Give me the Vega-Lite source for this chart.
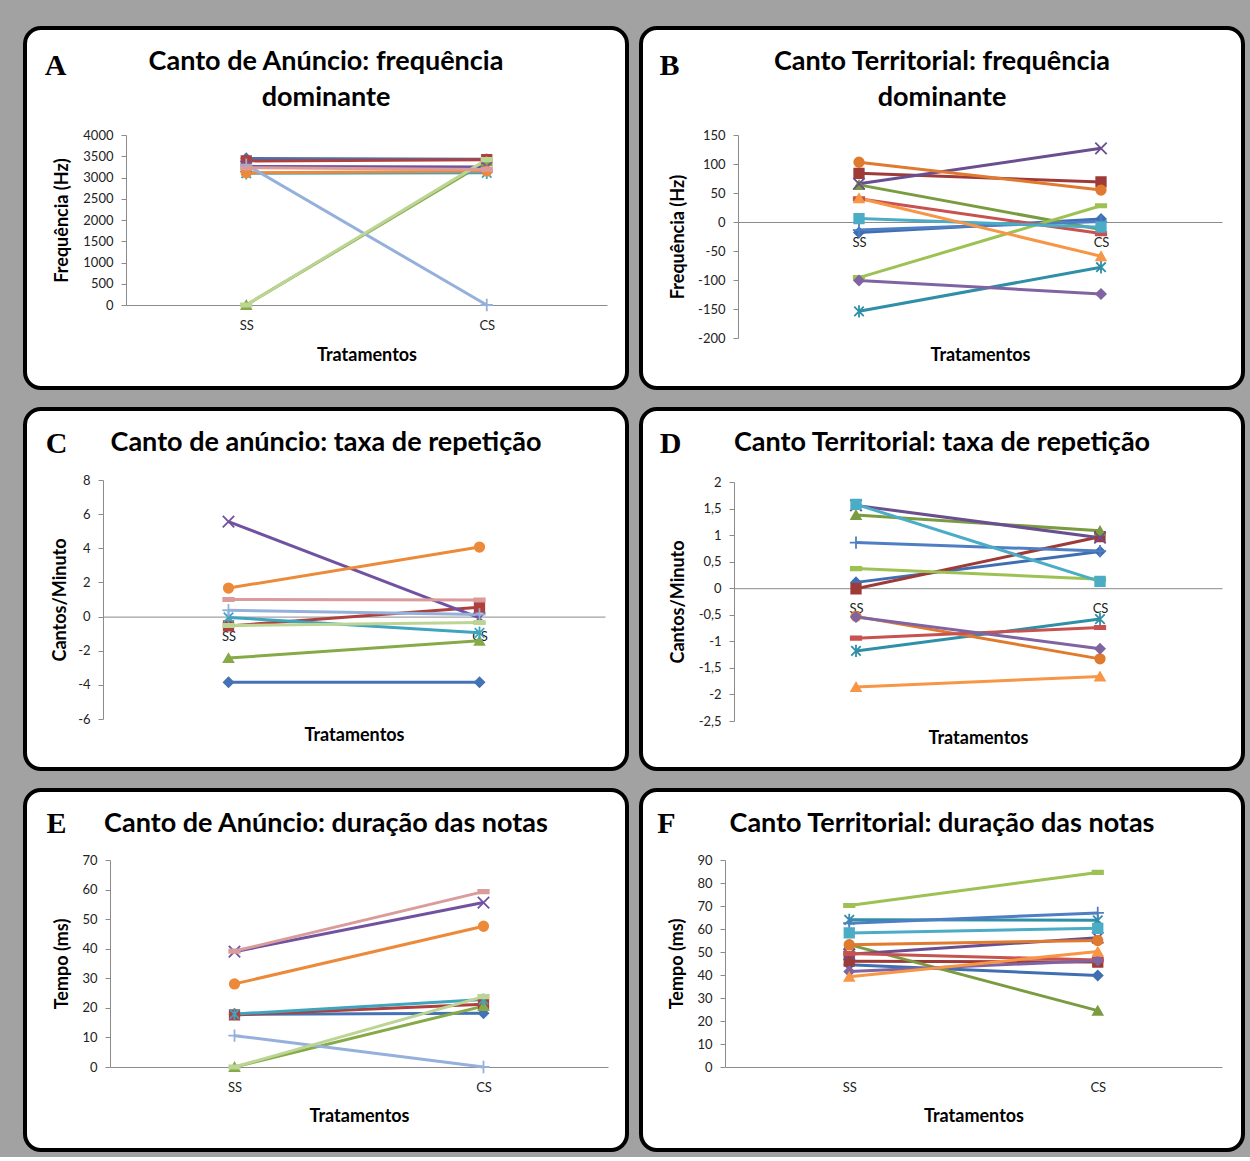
{
"$schema": "https://vega.github.io/schema/vega-lite/v6.json",
"background": "#a2a2a2",
"padding": {"left": 23, "top": 26, "right": 5, "bottom": 5},
"config": {
  "view": {"stroke": "#000000", "strokeWidth": 4, "cornerRadius": 16, "fill": "#ffffff"},
  "axis": {"labelFont": "Lato", "labelFontSize": 13, "labelColor": "#222222", "titleFont": "Lato", "titleFontSize": 18, "titleFontWeight": "bold", "titleColor": "#000000", "domainColor": "#8c8c8c", "tickColor": "#8c8c8c", "grid": false, "tickSize": 5, "labelOverlap": false},
  "title": {"font": "Lato", "fontSize": 27, "fontWeight": "bold", "color": "#000000", "anchor": "middle", "frame": "group", "lineHeight": 36},
  "locale": {"number": {"decimal": ",", "thousands": ".", "grouping": [3], "currency": ["", ""], "minus": "-"}}
},
"spacing": 17,
"resolve": {"scale": {"color": "independent", "shape": "independent", "stroke": "independent", "x": "independent", "y": "independent"}},
"vconcat": [
{
"spacing": 10,
"resolve": {"scale": {"color": "independent", "shape": "independent", "stroke": "independent", "x": "independent", "y": "independent"}},
"hconcat": [
{
  "width": 602, "height": 360,
  "title": {"text": ["Canto de Anúncio: frequência", "dominante"], "offset": -84},
  "data": {"values": [
    {"s":"1","t":"SS","v":3450},{"s":"1","t":"CS","v":3430},
    {"s":"2","t":"SS","v":3390},{"s":"2","t":"CS","v":3420},
    {"s":"3","t":"SS","v":0},{"s":"3","t":"CS","v":3380},
    {"s":"4","t":"SS","v":3260},{"s":"4","t":"CS","v":3250},
    {"s":"5","t":"SS","v":3100},{"s":"5","t":"CS","v":3110},
    {"s":"6","t":"SS","v":3110},{"s":"6","t":"CS","v":3150},
    {"s":"7","t":"SS","v":3300},{"s":"7","t":"CS","v":0},
    {"s":"8","t":"SS","v":0},{"s":"8","t":"CS","v":3420},
    {"s":"9","t":"SS","v":3230},{"s":"9","t":"CS","v":3190}
  ]},
  "resolve": {"scale": {"x": "independent"}, "axis": {"x": "independent"}},
  "layer": [
    {"mark": {"type": "line", "strokeWidth": 3},
     "encoding": {
      "x": {"field": "t", "type": "nominal", "scale": {"type": "point", "domain": ["SS","CS"], "range": [101, 582], "padding": 0.5},
            "axis": {"orient": "bottom", "offset": -83, "title": "Tratamentos", "titleY": 55, "titleBaseline": "alphabetic", "labelPadding": 14, "ticks": false, "labelAngle": 0}},
      "y": {"field": "v", "type": "quantitative", "scale": {"domain": [0, 4000], "range": [277, 107], "nice": false, "zero": false},
            "axis": {"offset": -101, "values": [0,500,1000,1500,2000,2500,3000,3500,4000], "tickCount": 30, "format": "d", "labelOverlap": false, "title": "Frequência (Hz)", "titleX": -64, "titleBaseline": "middle", "labelPadding": 8}},
      "color": {"field": "s", "type": "nominal", "scale": {"domain": ["1","2","3","4","5","6","7","8","9"], "range": ["#4572B5","#AE413E","#86AA47","#7152A0","#3FA4BE","#EC8A3A","#95B0DB","#BCD594","#D99C9A"]}, "legend": null}
     }},
    {"mark": {"type": "point", "filled": true, "size": 90, "strokeWidth": 1.8, "opacity": 1},
     "encoding": {
      "x": {"field": "t", "type": "nominal", "scale": {"type": "point", "domain": ["SS","CS"], "range": [101, 582], "padding": 0.5},
            "axis": {"orient": "top", "title": "A", "labels": false, "ticks": false, "domain": false, "titleX": 30, "titleY": 46, "titleAlign": "center", "titleBaseline": "alphabetic", "titleAngle": 0, "titleFont": "Liberation Serif", "titleFontSize": 30, "titleFontWeight": "bold"}},
      "y": {"field": "v", "type": "quantitative"},
      "color": {"field": "s", "type": "nominal", "scale": {"domain": ["1","2","3","4","5","6","7","8","9"], "range": ["#4572B5","#AE413E","#86AA47","#7152A0","#3FA4BE","#EC8A3A","#95B0DB","#BCD594","#D99C9A"]}, "legend": null},
      "stroke": {"field": "s", "type": "nominal", "scale": {"domain": ["1","2","3","4","5","6","7","8","9"], "range": ["#4572B5","#AE413E","#86AA47","#7152A0","#3FA4BE","#EC8A3A","#95B0DB","#BCD594","#D99C9A"]}, "legend": null},
      "shape": {"field": "s", "type": "nominal", "scale": {"domain": ["1","2","3","4","5","6","7","8","9"], "range": ["diamond","square","triangle-up","M-1.2,-1.2L1.2,1.2M-1.2,1.2L1.2,-1.2","M-1,-1L1,1M-1,1L1,-1M0,-1.3L0,1.3","circle","M-1.3,0L1.3,0M0,-1.3L0,1.3","M-1.1,-0.35H1.1V0.35H-1.1Z","M-1.1,-0.35H1.1V0.35H-1.1Z"]}, "legend": null}
     }}
  ]
},
{
  "width": 602, "height": 360,
  "title": {"text": ["Canto Territorial: frequência", "dominante"], "offset": -84},
  "data": {"values": [
    {"s":"1","t":"SS","v":-18},{"s":"1","t":"CS","v":5},
    {"s":"2","t":"SS","v":84},{"s":"2","t":"CS","v":69},
    {"s":"3","t":"SS","v":64},{"s":"3","t":"CS","v":-13},
    {"s":"4","t":"SS","v":66},{"s":"4","t":"CS","v":127},
    {"s":"5","t":"SS","v":-154},{"s":"5","t":"CS","v":-78},
    {"s":"6","t":"SS","v":103},{"s":"6","t":"CS","v":55},
    {"s":"7","t":"SS","v":-14},{"s":"7","t":"CS","v":1},
    {"s":"8","t":"SS","v":-96},{"s":"8","t":"CS","v":28},
    {"s":"9","t":"SS","v":40},{"s":"9","t":"CS","v":-20},
    {"s":"10","t":"SS","v":-101},{"s":"10","t":"CS","v":-124},
    {"s":"11","t":"SS","v":6},{"s":"11","t":"CS","v":-9},
    {"s":"12","t":"SS","v":41},{"s":"12","t":"CS","v":-59}
  ]},
  "resolve": {"scale": {"x": "independent"}, "axis": {"x": "independent"}},
  "layer": [
    {"mark": {"type": "line", "strokeWidth": 3},
     "encoding": {
      "x": {"field": "t", "type": "nominal", "scale": {"type": "point", "domain": ["SS","CS"], "range": [97, 581], "padding": 0.5},
            "axis": {"orient": "bottom", "offset": -166, "title": "Tratamentos", "titleY": 138, "titleBaseline": "alphabetic", "labelPadding": 14, "ticks": false, "labelAngle": 0}},
      "y": {"field": "v", "type": "quantitative", "scale": {"domain": [-200, 150], "range": [310, 107], "nice": false, "zero": false},
            "axis": {"offset": -97, "values": [-200,-150,-100,-50,0,50,100,150], "tickCount": 30, "format": "d", "labelOverlap": false, "title": "Frequência (Hz)", "titleX": -60, "titleBaseline": "middle", "labelPadding": 8}},
      "color": {"field": "s", "type": "nominal", "scale": {"domain": ["1","2","3","4","5","6","7","8","9","10","11","12"], "range": ["#3F6FB2","#9E3B38","#7A9C40","#6A4E8F","#2F8FA7","#E07A2E","#4F7FC2","#9DC253","#C8524F","#8064A2","#4BACC6","#F79646"]}, "legend": null}
     }},
    {"mark": {"type": "point", "filled": true, "size": 90, "strokeWidth": 1.8, "opacity": 1},
     "encoding": {
      "x": {"field": "t", "type": "nominal", "scale": {"type": "point", "domain": ["SS","CS"], "range": [97, 581], "padding": 0.5},
            "axis": {"orient": "top", "title": "B", "labels": false, "ticks": false, "domain": false, "titleX": 28, "titleY": 46, "titleAlign": "center", "titleBaseline": "alphabetic", "titleAngle": 0, "titleFont": "Liberation Serif", "titleFontSize": 30, "titleFontWeight": "bold"}},
      "y": {"field": "v", "type": "quantitative"},
      "color": {"field": "s", "type": "nominal", "scale": {"domain": ["1","2","3","4","5","6","7","8","9","10","11","12"], "range": ["#3F6FB2","#9E3B38","#7A9C40","#6A4E8F","#2F8FA7","#E07A2E","#4F7FC2","#9DC253","#C8524F","#8064A2","#4BACC6","#F79646"]}, "legend": null},
      "stroke": {"field": "s", "type": "nominal", "scale": {"domain": ["1","2","3","4","5","6","7","8","9","10","11","12"], "range": ["#3F6FB2","#9E3B38","#7A9C40","#6A4E8F","#2F8FA7","#E07A2E","#4F7FC2","#9DC253","#C8524F","#8064A2","#4BACC6","#F79646"]}, "legend": null},
      "shape": {"field": "s", "type": "nominal", "scale": {"domain": ["1","2","3","4","5","6","7","8","9","10","11","12"], "range": ["diamond","square","triangle-up","M-1.2,-1.2L1.2,1.2M-1.2,1.2L1.2,-1.2","M-1,-1L1,1M-1,1L1,-1M0,-1.3L0,1.3","circle","M-1.3,0L1.3,0M0,-1.3L0,1.3","M-1.1,-0.35H1.1V0.35H-1.1Z","M-1.1,-0.35H1.1V0.35H-1.1Z","diamond","square","triangle-up"]}, "legend": null}
     }}
  ]
}
]
},
{
"spacing": 10,
"resolve": {"scale": {"color": "independent", "shape": "independent", "stroke": "independent", "x": "independent", "y": "independent"}},
"hconcat": [
{
  "width": 602, "height": 360,
  "title": {"text": "Canto de anúncio: taxa de repetição", "offset": -48},
  "data": {"values": [
    {"s":"1","t":"SS","v":-3.85},{"s":"1","t":"CS","v":-3.85},
    {"s":"2","t":"SS","v":-0.55},{"s":"2","t":"CS","v":0.55},
    {"s":"3","t":"SS","v":-2.43},{"s":"3","t":"CS","v":-1.42},
    {"s":"4","t":"SS","v":5.56},{"s":"4","t":"CS","v":-0.08},
    {"s":"5","t":"SS","v":-0.05},{"s":"5","t":"CS","v":-0.95},
    {"s":"6","t":"SS","v":1.67},{"s":"6","t":"CS","v":4.07},
    {"s":"7","t":"SS","v":0.37},{"s":"7","t":"CS","v":0.12},
    {"s":"8","t":"SS","v":-0.52},{"s":"8","t":"CS","v":-0.35},
    {"s":"9","t":"SS","v":1.0},{"s":"9","t":"CS","v":0.97}
  ]},
  "resolve": {"scale": {"x": "independent"}, "axis": {"x": "independent"}},
  "layer": [
    {"mark": {"type": "line", "strokeWidth": 3},
     "encoding": {
      "x": {"field": "t", "type": "nominal", "scale": {"type": "point", "domain": ["SS","CS"], "range": [78, 580], "padding": 0.5},
            "axis": {"orient": "bottom", "offset": -152.4, "title": "Tratamentos", "titleY": 124, "titleBaseline": "alphabetic", "labelPadding": 14, "ticks": false, "labelAngle": 0}},
      "y": {"field": "v", "type": "quantitative", "scale": {"domain": [-6, 8], "range": [310, 71], "nice": false, "zero": false},
            "axis": {"offset": -78, "values": [-6,-4,-2,0,2,4,6,8], "tickCount": 30, "format": "d", "labelOverlap": false, "title": "Cantos/Minuto", "titleX": -43, "titleBaseline": "middle", "labelPadding": 8}},
      "color": {"field": "s", "type": "nominal", "scale": {"domain": ["1","2","3","4","5","6","7","8","9"], "range": ["#4572B5","#AE413E","#86AA47","#7152A0","#3FA4BE","#EC8A3A","#95B0DB","#BCD594","#D99C9A"]}, "legend": null}
     }},
    {"mark": {"type": "point", "filled": true, "size": 90, "strokeWidth": 1.8, "opacity": 1},
     "encoding": {
      "x": {"field": "t", "type": "nominal", "scale": {"type": "point", "domain": ["SS","CS"], "range": [78, 580], "padding": 0.5},
            "axis": {"orient": "top", "title": "C", "labels": false, "ticks": false, "domain": false, "titleX": 31, "titleY": 43, "titleAlign": "center", "titleBaseline": "alphabetic", "titleAngle": 0, "titleFont": "Liberation Serif", "titleFontSize": 30, "titleFontWeight": "bold"}},
      "y": {"field": "v", "type": "quantitative"},
      "color": {"field": "s", "type": "nominal", "scale": {"domain": ["1","2","3","4","5","6","7","8","9"], "range": ["#4572B5","#AE413E","#86AA47","#7152A0","#3FA4BE","#EC8A3A","#95B0DB","#BCD594","#D99C9A"]}, "legend": null},
      "stroke": {"field": "s", "type": "nominal", "scale": {"domain": ["1","2","3","4","5","6","7","8","9"], "range": ["#4572B5","#AE413E","#86AA47","#7152A0","#3FA4BE","#EC8A3A","#95B0DB","#BCD594","#D99C9A"]}, "legend": null},
      "shape": {"field": "s", "type": "nominal", "scale": {"domain": ["1","2","3","4","5","6","7","8","9"], "range": ["diamond","square","triangle-up","M-1.2,-1.2L1.2,1.2M-1.2,1.2L1.2,-1.2","M-1,-1L1,1M-1,1L1,-1M0,-1.3L0,1.3","circle","M-1.3,0L1.3,0M0,-1.3L0,1.3","M-1.1,-0.35H1.1V0.35H-1.1Z","M-1.1,-0.35H1.1V0.35H-1.1Z"]}, "legend": null}
     }}
  ]
},
{
  "width": 602, "height": 360,
  "title": {"text": "Canto Territorial: taxa de repetição", "offset": -48},
  "data": {"values": [
    {"s":"1","t":"SS","v":0.11},{"s":"1","t":"CS","v":0.69},
    {"s":"2","t":"SS","v":-0.01},{"s":"2","t":"CS","v":0.97},
    {"s":"3","t":"SS","v":1.38},{"s":"3","t":"CS","v":1.08},
    {"s":"4","t":"SS","v":1.56},{"s":"4","t":"CS","v":0.95},
    {"s":"5","t":"SS","v":-1.18},{"s":"5","t":"CS","v":-0.58},
    {"s":"6","t":"SS","v":-0.53},{"s":"6","t":"CS","v":-1.33},
    {"s":"7","t":"SS","v":0.86},{"s":"7","t":"CS","v":0.70},
    {"s":"8","t":"SS","v":0.37},{"s":"8","t":"CS","v":0.17},
    {"s":"9","t":"SS","v":-0.94},{"s":"9","t":"CS","v":-0.74},
    {"s":"10","t":"SS","v":-0.54},{"s":"10","t":"CS","v":-1.14},
    {"s":"11","t":"SS","v":1.58},{"s":"11","t":"CS","v":0.13},
    {"s":"12","t":"SS","v":-1.86},{"s":"12","t":"CS","v":-1.66}
  ]},
  "resolve": {"scale": {"x": "independent"}, "axis": {"x": "independent"}},
  "layer": [
    {"mark": {"type": "line", "strokeWidth": 3},
     "encoding": {
      "x": {"field": "t", "type": "nominal", "scale": {"type": "point", "domain": ["SS","CS"], "range": [93, 581], "padding": 0.5},
            "axis": {"orient": "bottom", "offset": -180.8, "title": "Tratamentos", "titleY": 155, "titleBaseline": "alphabetic", "labelPadding": 14, "ticks": false, "labelAngle": 0}},
      "y": {"field": "v", "type": "quantitative", "scale": {"domain": [-2.5, 2], "range": [312, 73], "nice": false, "zero": false},
            "axis": {"offset": -93, "values": [-2.5,-2,-1.5,-1,-0.5,0,0.5,1,1.5,2], "tickCount": 30, "format": ".1~f", "labelOverlap": false, "title": "Cantos/Minuto", "titleX": -56, "titleBaseline": "middle", "labelPadding": 8}},
      "color": {"field": "s", "type": "nominal", "scale": {"domain": ["1","2","3","4","5","6","7","8","9","10","11","12"], "range": ["#3F6FB2","#9E3B38","#7A9C40","#6A4E8F","#2F8FA7","#E07A2E","#4F7FC2","#9DC253","#C8524F","#8064A2","#4BACC6","#F79646"]}, "legend": null}
     }},
    {"mark": {"type": "point", "filled": true, "size": 90, "strokeWidth": 1.8, "opacity": 1},
     "encoding": {
      "x": {"field": "t", "type": "nominal", "scale": {"type": "point", "domain": ["SS","CS"], "range": [93, 581], "padding": 0.5},
            "axis": {"orient": "top", "title": "D", "labels": false, "ticks": false, "domain": false, "titleX": 29, "titleY": 43, "titleAlign": "center", "titleBaseline": "alphabetic", "titleAngle": 0, "titleFont": "Liberation Serif", "titleFontSize": 30, "titleFontWeight": "bold"}},
      "y": {"field": "v", "type": "quantitative"},
      "color": {"field": "s", "type": "nominal", "scale": {"domain": ["1","2","3","4","5","6","7","8","9","10","11","12"], "range": ["#3F6FB2","#9E3B38","#7A9C40","#6A4E8F","#2F8FA7","#E07A2E","#4F7FC2","#9DC253","#C8524F","#8064A2","#4BACC6","#F79646"]}, "legend": null},
      "stroke": {"field": "s", "type": "nominal", "scale": {"domain": ["1","2","3","4","5","6","7","8","9","10","11","12"], "range": ["#3F6FB2","#9E3B38","#7A9C40","#6A4E8F","#2F8FA7","#E07A2E","#4F7FC2","#9DC253","#C8524F","#8064A2","#4BACC6","#F79646"]}, "legend": null},
      "shape": {"field": "s", "type": "nominal", "scale": {"domain": ["1","2","3","4","5","6","7","8","9","10","11","12"], "range": ["diamond","square","triangle-up","M-1.2,-1.2L1.2,1.2M-1.2,1.2L1.2,-1.2","M-1,-1L1,1M-1,1L1,-1M0,-1.3L0,1.3","circle","M-1.3,0L1.3,0M0,-1.3L0,1.3","M-1.1,-0.35H1.1V0.35H-1.1Z","M-1.1,-0.35H1.1V0.35H-1.1Z","diamond","square","triangle-up"]}, "legend": null}
     }}
  ]
}
]
},
{
"spacing": 10,
"resolve": {"scale": {"color": "independent", "shape": "independent", "stroke": "independent", "x": "independent", "y": "independent"}},
"hconcat": [
{
  "width": 602, "height": 360,
  "title": {"text": "Canto de Anúncio: duração das notas", "offset": -48},
  "data": {"values": [
    {"s":"1","t":"SS","v":17.8},{"s":"1","t":"CS","v":18.2},
    {"s":"2","t":"SS","v":17.6},{"s":"2","t":"CS","v":21.2},
    {"s":"3","t":"SS","v":0},{"s":"3","t":"CS","v":20.6},
    {"s":"4","t":"SS","v":39.0},{"s":"4","t":"CS","v":55.6},
    {"s":"5","t":"SS","v":17.9},{"s":"5","t":"CS","v":22.8},
    {"s":"6","t":"SS","v":28.1},{"s":"6","t":"CS","v":47.6},
    {"s":"7","t":"SS","v":10.6},{"s":"7","t":"CS","v":0},
    {"s":"8","t":"SS","v":0},{"s":"8","t":"CS","v":23.8},
    {"s":"9","t":"SS","v":39.2},{"s":"9","t":"CS","v":59.3}
  ]},
  "resolve": {"scale": {"x": "independent"}, "axis": {"x": "independent"}},
  "layer": [
    {"mark": {"type": "line", "strokeWidth": 3},
     "encoding": {
      "x": {"field": "t", "type": "nominal", "scale": {"type": "point", "domain": ["SS","CS"], "range": [85, 583], "padding": 0.5},
            "axis": {"orient": "bottom", "offset": -83, "title": "Tratamentos", "titleY": 54, "titleBaseline": "alphabetic", "labelPadding": 14, "ticks": false, "labelAngle": 0}},
      "y": {"field": "v", "type": "quantitative", "scale": {"domain": [0, 70], "range": [277, 70], "nice": false, "zero": false},
            "axis": {"offset": -85, "values": [0,10,20,30,40,50,60,70], "tickCount": 30, "format": "d", "labelOverlap": false, "title": "Tempo (ms)", "titleX": -48, "titleBaseline": "middle", "labelPadding": 8}},
      "color": {"field": "s", "type": "nominal", "scale": {"domain": ["1","2","3","4","5","6","7","8","9"], "range": ["#4572B5","#AE413E","#86AA47","#7152A0","#3FA4BE","#EC8A3A","#95B0DB","#BCD594","#D99C9A"]}, "legend": null}
     }},
    {"mark": {"type": "point", "filled": true, "size": 90, "strokeWidth": 1.8, "opacity": 1},
     "encoding": {
      "x": {"field": "t", "type": "nominal", "scale": {"type": "point", "domain": ["SS","CS"], "range": [85, 583], "padding": 0.5},
            "axis": {"orient": "top", "title": "E", "labels": false, "ticks": false, "domain": false, "titleX": 31, "titleY": 42, "titleAlign": "center", "titleBaseline": "alphabetic", "titleAngle": 0, "titleFont": "Liberation Serif", "titleFontSize": 30, "titleFontWeight": "bold"}},
      "y": {"field": "v", "type": "quantitative"},
      "color": {"field": "s", "type": "nominal", "scale": {"domain": ["1","2","3","4","5","6","7","8","9"], "range": ["#4572B5","#AE413E","#86AA47","#7152A0","#3FA4BE","#EC8A3A","#95B0DB","#BCD594","#D99C9A"]}, "legend": null},
      "stroke": {"field": "s", "type": "nominal", "scale": {"domain": ["1","2","3","4","5","6","7","8","9"], "range": ["#4572B5","#AE413E","#86AA47","#7152A0","#3FA4BE","#EC8A3A","#95B0DB","#BCD594","#D99C9A"]}, "legend": null},
      "shape": {"field": "s", "type": "nominal", "scale": {"domain": ["1","2","3","4","5","6","7","8","9"], "range": ["diamond","square","triangle-up","M-1.2,-1.2L1.2,1.2M-1.2,1.2L1.2,-1.2","M-1,-1L1,1M-1,1L1,-1M0,-1.3L0,1.3","circle","M-1.3,0L1.3,0M0,-1.3L0,1.3","M-1.1,-0.35H1.1V0.35H-1.1Z","M-1.1,-0.35H1.1V0.35H-1.1Z"]}, "legend": null}
     }}
  ]
},
{
  "width": 602, "height": 360,
  "title": {"text": "Canto Territorial: duração das notas", "offset": -48},
  "data": {"values": [
    {"s":"1","t":"SS","v":44.5},{"s":"1","t":"CS","v":39.8},
    {"s":"2","t":"SS","v":46.0},{"s":"2","t":"CS","v":45.6},
    {"s":"3","t":"SS","v":53.2},{"s":"3","t":"CS","v":24.5},
    {"s":"4","t":"SS","v":49.0},{"s":"4","t":"CS","v":56.2},
    {"s":"5","t":"SS","v":64.0},{"s":"5","t":"CS","v":63.8},
    {"s":"6","t":"SS","v":53.2},{"s":"6","t":"CS","v":55.0},
    {"s":"7","t":"SS","v":62.5},{"s":"7","t":"CS","v":67.0},
    {"s":"8","t":"SS","v":70.2},{"s":"8","t":"CS","v":84.6},
    {"s":"9","t":"SS","v":49.4},{"s":"9","t":"CS","v":46.5},
    {"s":"10","t":"SS","v":41.5},{"s":"10","t":"CS","v":46.3},
    {"s":"11","t":"SS","v":58.3},{"s":"11","t":"CS","v":60.3},
    {"s":"12","t":"SS","v":39.2},{"s":"12","t":"CS","v":50.2}
  ]},
  "resolve": {"scale": {"x": "independent"}, "axis": {"x": "independent"}},
  "layer": [
    {"mark": {"type": "line", "strokeWidth": 3},
     "encoding": {
      "x": {"field": "t", "type": "nominal", "scale": {"type": "point", "domain": ["SS","CS"], "range": [84, 581], "padding": 0.5},
            "axis": {"orient": "bottom", "offset": -83, "title": "Tratamentos", "titleY": 54, "titleBaseline": "alphabetic", "labelPadding": 14, "ticks": false, "labelAngle": 0}},
      "y": {"field": "v", "type": "quantitative", "scale": {"domain": [0, 90], "range": [277, 70], "nice": false, "zero": false},
            "axis": {"offset": -84, "values": [0,10,20,30,40,50,60,70,80,90], "tickCount": 30, "format": "d", "labelOverlap": false, "title": "Tempo (ms)", "titleX": -48, "titleBaseline": "middle", "labelPadding": 8}},
      "color": {"field": "s", "type": "nominal", "scale": {"domain": ["1","2","3","4","5","6","7","8","9","10","11","12"], "range": ["#3F6FB2","#9E3B38","#7A9C40","#6A4E8F","#2F8FA7","#E07A2E","#4F7FC2","#9DC253","#C8524F","#8064A2","#4BACC6","#F79646"]}, "legend": null}
     }},
    {"mark": {"type": "point", "filled": true, "size": 90, "strokeWidth": 1.8, "opacity": 1},
     "encoding": {
      "x": {"field": "t", "type": "nominal", "scale": {"type": "point", "domain": ["SS","CS"], "range": [84, 581], "padding": 0.5},
            "axis": {"orient": "top", "title": "F", "labels": false, "ticks": false, "domain": false, "titleX": 25, "titleY": 42, "titleAlign": "center", "titleBaseline": "alphabetic", "titleAngle": 0, "titleFont": "Liberation Serif", "titleFontSize": 30, "titleFontWeight": "bold"}},
      "y": {"field": "v", "type": "quantitative"},
      "color": {"field": "s", "type": "nominal", "scale": {"domain": ["1","2","3","4","5","6","7","8","9","10","11","12"], "range": ["#3F6FB2","#9E3B38","#7A9C40","#6A4E8F","#2F8FA7","#E07A2E","#4F7FC2","#9DC253","#C8524F","#8064A2","#4BACC6","#F79646"]}, "legend": null},
      "stroke": {"field": "s", "type": "nominal", "scale": {"domain": ["1","2","3","4","5","6","7","8","9","10","11","12"], "range": ["#3F6FB2","#9E3B38","#7A9C40","#6A4E8F","#2F8FA7","#E07A2E","#4F7FC2","#9DC253","#C8524F","#8064A2","#4BACC6","#F79646"]}, "legend": null},
      "shape": {"field": "s", "type": "nominal", "scale": {"domain": ["1","2","3","4","5","6","7","8","9","10","11","12"], "range": ["diamond","square","triangle-up","M-1.2,-1.2L1.2,1.2M-1.2,1.2L1.2,-1.2","M-1,-1L1,1M-1,1L1,-1M0,-1.3L0,1.3","circle","M-1.3,0L1.3,0M0,-1.3L0,1.3","M-1.1,-0.35H1.1V0.35H-1.1Z","M-1.1,-0.35H1.1V0.35H-1.1Z","diamond","square","triangle-up"]}, "legend": null}
     }}
  ]
}
]
}
]
}
